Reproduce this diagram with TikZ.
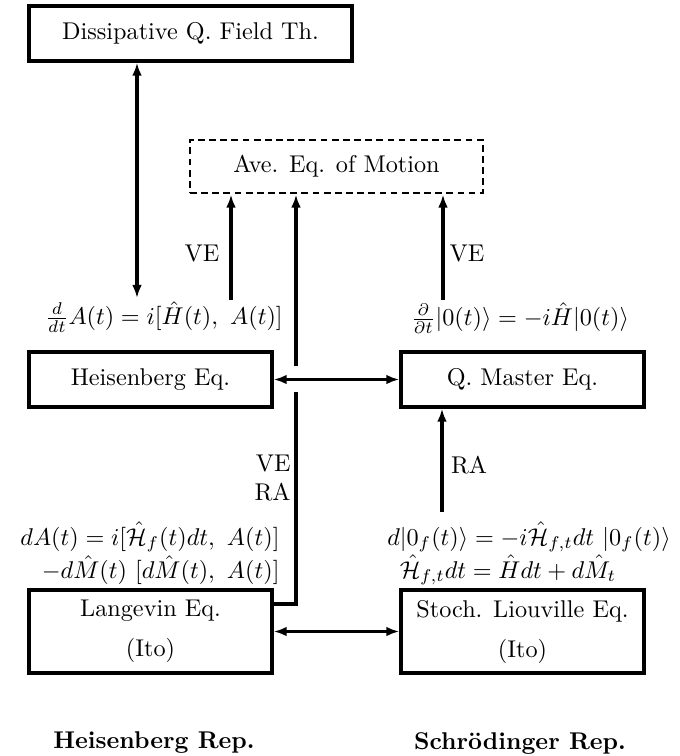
\documentclass[tikz,border=0pt]{standalone}
\usetikzlibrary{arrows.meta}
\begin{document}
\begin{tikzpicture}[x=0.4127pt,y=-0.4127pt,
  box/.style={draw,line width=1.35pt,inner sep=0pt,anchor=center},
  dbox/.style={draw,line width=1.2pt,dash pattern=on 2.8pt off 1.8pt,inner sep=0pt,anchor=center},
  txt/.style={inner sep=0pt},
  conn/.style={line width=1.25pt},
  tip/.style={-{Latex[length=5.4pt,width=4pt]}},
  dtip/.style={{Latex[length=5.4pt,width=4pt]}-{Latex[length=5.4pt,width=4pt]}}]
\useasboundingbox (0,0) rectangle (680,756);
% boxes
\node[box,minimum width=133.3pt,minimum height=22.7pt] (dqft) at (190.5,33.5) {Dissipative Q. Field Th.};
\node[dbox,minimum width=120.9pt,minimum height=21.9pt] (ave) at (336.5,166.5) {Ave. Eq. of Motion};
\node[box,minimum width=100.3pt,minimum height=22.7pt] (heis) at (150.5,379.5) {Heisenberg Eq.};
\node[box,minimum width=100.3pt,minimum height=22.7pt] (qme) at (522.5,379.5) {Q. Master Eq.};
\node[box,minimum width=100.3pt,minimum height=34.3pt,align=center] (lang) at (150.5,631.5) {Langevin Eq.\\[4.5pt](Ito)};
\node[box,minimum width=100.3pt,minimum height=34.3pt,align=center] (stoch) at (522.5,631.5) {Stoch. Liouville Eq.\\[4.5pt](Ito)};
% formulas
\node[txt] (eqa) at (164,317) {$\frac{d}{dt}A(t)=i[\hat{H}(t),\ A(t)]$};
\node[txt] (eqb) at (520,318) {$\frac{\partial}{\partial t}|0(t)\rangle=-i\hat{H}|0(t)\rangle$};
\node[txt,anchor=east] (eqc) at (280,537) {$dA(t)=i[\hat{\mathcal{H}}_f(t)dt,\ A(t)]$};
\node[txt,anchor=east] (eqd) at (280,570) {$-d\hat{M}(t)\ [d\hat{M}(t),\ A(t)]$};
\node[txt] (eqe) at (529,537) {$d|0_f(t)\rangle=-i\hat{\mathcal{H}}_{f,t}dt\ |0_f(t)\rangle$};
\node[txt] (eqf) at (508,570) {$\hat{\mathcal{H}}_{f,t}dt=\hat{H}dt+d\hat{M}_t$};
% labels
\node[txt] (ve1) at (202,253) {VE};
\node[txt] (ve2) at (467,253) {VE};
\node[txt,align=right,anchor=east] (vera) at (291,478) {VE\\RA};
\node[txt] (ra) at (469,465) {RA};
\node[txt] (hrep) at (154,743) {\textbf{Heisenberg Rep.}};
\node[txt] (srep) at (520,743) {\textbf{Schr\"odinger Rep.}};
% coordinates
\coordinate (c1) at (137,298);
\coordinate (c2) at (231,300);
\coordinate (c3) at (443,300);
\coordinate (c4) at (296,604);
\coordinate (c5) at (296,392);
\coordinate (c6) at (296,366);
\coordinate (c7) at (442,512);
% connectors
\draw[conn,dtip] (dqft.south -| c1) -- (c1);
\draw[conn,tip] (c2) -- (ave.south -| c2);
\draw[conn,tip] (c3) -- (ave.south -| c3);
\draw[conn] (lang.east |- c4) -- (c4) -- (c5);
\draw[conn,tip] (c6) -- (ave.south -| c6);
\draw[conn,dtip] (heis.east) -- (qme.west);
\draw[conn,tip] (c7) -- (qme.south -| c7);
\draw[conn,dtip] (lang.east) -- (stoch.west);
\end{tikzpicture}
\end{document}
